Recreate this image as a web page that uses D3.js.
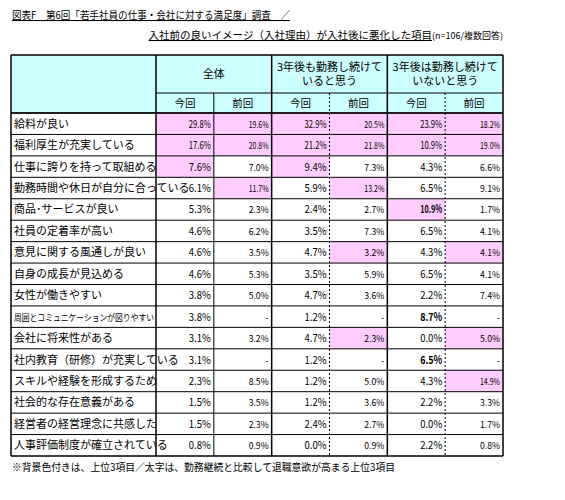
<!DOCTYPE html><html><head><meta charset="utf-8"><script src="https://cdn.jsdelivr.net/npm/d3@7"></script>
<style>body{margin:0;background:#fff}</style></head><body><svg id="c" width="565" height="500"></svg><script>
const items=["給料が良い","福利厚生が充実している","仕事に誇りを持って取組める","勤務時間や休日が自分に合っている","商品･サービスが良い","社員の定着率が高い","意見に関する風通しが良い","自身の成長が見込める","女性が働きやすい","周囲とコミュニケーションが図りやすい","会社に将来性がある","社内教育（研修）が充実している","スキルや経験を形成するため","社会的な存在意義がある","経営者の経営理念に共感した","人事評価制度が確立されている"];
const groups=["全体","3年後も勤務し続けて\nいると思う","3年後は勤務し続けて\nいないと思う"];
const subs=["今回","前回"];
const allNow=[29.8,17.6,7.6,6.1,5.3,4.6,4.6,4.6,3.8,3.8,3.1,3.1,2.3,1.5,1.5,0.8];
const allPrev=[19.6,20.8,7.0,11.7,2.3,6.2,3.5,5.3,5.0,null,3.2,null,8.5,3.5,2.3,0.9];
const stayNow=[32.9,21.2,9.4,5.9,2.4,3.5,4.7,3.5,4.7,1.2,4.7,1.2,1.2,1.2,2.4,0.0];
const stayPrev=[20.5,21.8,7.3,13.2,2.7,7.3,3.2,5.9,3.6,null,2.3,null,5.0,3.6,2.7,0.9];
const leaveNow=[23.9,10.9,4.3,6.5,10.9,6.5,4.3,6.5,2.2,8.7,0.0,6.5,4.3,2.2,0.0,2.2];
const leavePrev=[18.2,19.0,6.6,9.1,1.7,4.1,4.1,4.1,7.4,null,5.0,null,14.9,3.3,1.7,0.8];
const highlight=["111111","111111","101000","010100","000010","000000","000101","000000","000000","000000","000101","000000","000001","000000","000000","000000"];
const boldCells=[[4,4],[9,4],[11,4]];
const series=[allNow,allPrev,stayNow,stayPrev,leaveNow,leavePrev];
const svg=d3.select("#c"),F="'Noto Sans CJK JP',sans-serif";
const L=11,LC=156,R=503,T0=55,h1=93,h2=113,bot=456;
const colX=d3.scaleLinear().domain([0,6]).range([LC,R]);
const rowY=d3.scaleBand().domain(d3.range(items.length)).range([h2,bot]);
svg.append("rect").attr("x",L).attr("y",T0).attr("width",R-L).attr("height",h2-T0).attr("fill","#ccffff");
items.forEach((it,i)=>{
 series.forEach((s,j)=>{
  if(highlight[i][j]==="1") svg.append("rect").attr("x",colX(j)).attr("y",rowY(i)).attr("width",colX(j+1)-colX(j)).attr("height",rowY.bandwidth()).attr("fill","#ffccff");
  const v=s[i]; const b=boldCells.some(c=>c[0]===i&&c[1]===j);
  const t=svg.append("text").attr("x",colX(j+1)-3).attr("y",rowY(i)+rowY.bandwidth()/2+4).attr("text-anchor","end")
   .attr("font-family",F).attr("font-size",j%2?9.5:11).attr("font-weight",b?"bold":"normal")
   .text(v==null?"-":v.toFixed(1)+"%");
  if(v!=null) t.attr("textLength",j%2?20:22).attr("lengthAdjust","spacingAndGlyphs");
 });
 const long=it.length>16;
 const t=svg.append("text").attr("x",L+3).attr("y",rowY(i)+rowY.bandwidth()/2+4).attr("font-family",F)
  .attr("font-size",long?9:11).text(it);
 if(long) t.attr("textLength",140).attr("lengthAdjust","spacingAndGlyphs");
});
const line=(x1,y1,x2,y2,w,d)=>svg.append("line").attr("x1",x1).attr("y1",y1).attr("x2",x2).attr("y2",y2).attr("stroke","#000").attr("stroke-width",w).attr("stroke-dasharray",d||null);
d3.range(items.length).forEach(i=>line(L,rowY(i),R,rowY(i),1));
line(L,bot,R,bot,1.5);
line(LC,h1,R,h1,1);
[0,2,4,6].forEach(k=>line(colX(k),T0,colX(k),bot,1.5));
line(colX(1),h1,colX(1),bot,1);
[3,5].forEach(k=>line(colX(k),h1,colX(k),bot,1,"2,2"));
line(L,T0,L,bot,1.5);line(L,T0,R,T0,1.5);line(L,h2,R,h2,1.5);
groups.forEach((g,k)=>{const ls=g.split("\n");const cx=(colX(2*k)+colX(2*k+2))/2;
 ls.forEach((t,m)=>svg.append("text").attr("x",cx).attr("y",(T0+h1)/2+4+(m-(ls.length-1)/2)*14).attr("text-anchor","middle").attr("font-family",F).attr("font-size",11).text(t));
 subs.forEach((s,m)=>svg.append("text").attr("x",(colX(2*k+m)+colX(2*k+m+1))/2).attr("y",(h1+h2)/2+4).attr("text-anchor","middle").attr("font-family",F).attr("font-size",10.5).text(s));
});
svg.append("text").attr("x",12).attr("y",19).attr("font-family",F).attr("font-size",10.5).attr("textLength",278).attr("lengthAdjust","spacingAndGlyphs").attr("text-decoration","underline").text("図表F　第6回「若手社員の仕事・会社に対する満足度」調査　／");
const t2=svg.append("text").attr("x",503).attr("y",39).attr("text-anchor","end").attr("font-family",F).attr("font-size",10.5);
t2.append("tspan").attr("text-decoration","underline").text("入社前の良いイメージ（入社理由）が入社後に悪化した項目");
t2.append("tspan").attr("font-size",9).text("(n=106/複数回答)");
svg.append("text").attr("x",12).attr("y",471).attr("font-family",F).attr("font-size",10.5).attr("textLength",383).attr("lengthAdjust","spacingAndGlyphs").text("※背景色付きは、上位3項目／太字は、勤務継続と比較して退職意欲が高まる上位3項目");
</script></body></html>
